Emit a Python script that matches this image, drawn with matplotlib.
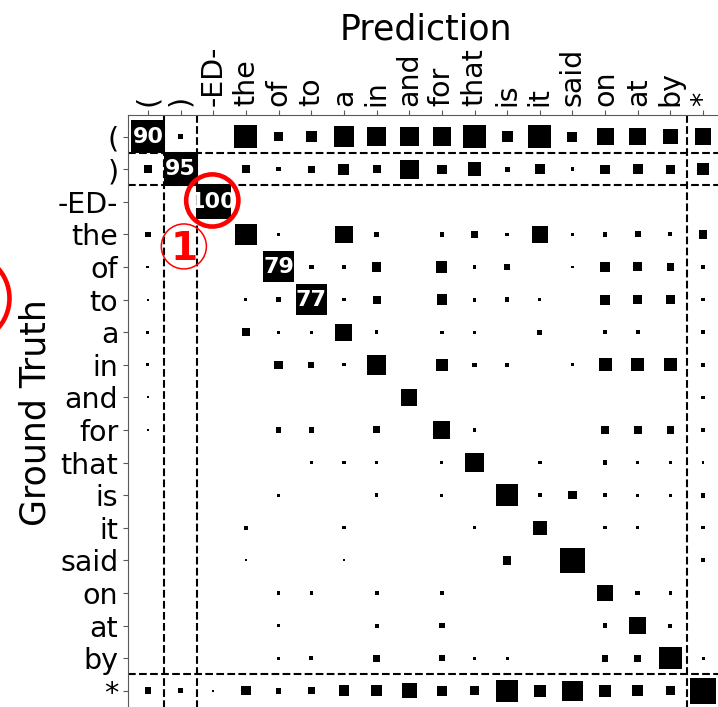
import numpy as np
import matplotlib.pyplot as plt
from matplotlib.patches import Rectangle, Circle

labels = ['(', ')', '-ED-', 'the', 'of', 'to', 'a', 'in', 'and', 'for',
          'that', 'is', 'it', 'said', 'on', 'at', 'by', '*']

# ground truth rows, predicted tokens as columns (same order as labels)
r_lparen = [90, 2.7, 0, 43.2, 7.7, 9.9, 35.0, 30.4, 29.5, 28.5, 42.0, 9.4, 43.2, 8.2, 23.6, 24.4, 19.1, 21.7]
r_rparen = [5.2, 95, 0, 5.6, 1.5, 3.7, 9.9, 5.2, 29.5, 7.1, 16.0, 2.3, 8.7, 1.1, 7.1, 8.2, 6.2, 12.4]
r_ed = [0, 0, 100, 0, 0, 0, 0, 0, 0, 0, 0, 0, 0, 0, 0, 0, 0, 0]
r_the = [2.7, 0, 0, 38.4, 0.6, 0, 24.4, 1.5, 0, 1.5, 4.4, 1.1, 21.7, 1.1, 1.8, 3.2, 1.3, 6.2]
r_of = [0.7, 0, 0, 0, 79, 2.0, 0.9, 7.1, 0, 10.4, 0.9, 2.9, 0, 0.6, 8.7, 6.6, 4.8, 0.9]
r_to = [0.3, 0, 0, 0.7, 2.3, 77, 0.9, 5.2, 0, 8.7, 1.3, 1.5, 0.6, 0, 8.2, 6.6, 6.2, 0.9]
r_a = [0.7, 0, 0, 4.8, 0.7, 0.6, 23.6, 1.1, 0, 0.9, 0.9, 0, 2.0, 0, 1.1, 1.1, 0, 1.5]
r_in = [0.7, 0, 0, 0, 5.6, 2.9, 0.9, 31.7, 0, 12.4, 1.5, 1.5, 0, 0.7, 13.8, 13.2, 13.2, 1.3]
r_and = [0.3, 0, 0, 0, 0, 0, 0, 0, 21.7, 0, 0, 0, 0, 0, 0, 0, 0, 0.9]
r_for = [0.3, 0, 0, 0, 2.6, 2.3, 0, 4.0, 0, 24.4, 1.3, 0, 0, 0, 5.6, 5.6, 4.8, 0.9]
r_that = [0, 0, 0, 0, 0, 0.6, 0.9, 1.1, 0, 0.7, 29.5, 0, 1.1, 0, 1.8, 0.9, 0.9, 0.6]
r_is = [0, 0, 0, 0, 0.9, 0, 0, 1.1, 0, 0.7, 0, 40.6, 1.1, 5.6, 1.1, 0.9, 0.9, 1.8]
r_it = [0, 0, 0, 1.3, 0, 0, 0.9, 0, 0, 0, 0.9, 0, 16.7, 0, 0.9, 0.9, 0, 0.9]
r_said = [0, 0, 0, 0.3, 0, 0, 0.3, 0, 0, 0, 0, 5.6, 0, 49.8, 0, 0, 0, 1.3]
r_on = [0, 0, 0, 0, 1.1, 0.9, 0, 1.3, 0, 1.5, 0, 0, 0, 0, 20.9, 1.8, 1.1, 0]
r_at = [0, 0, 0, 0, 1.1, 0, 0, 1.3, 0, 2.6, 0, 0, 0, 0, 1.5, 24.4, 1.3, 0]
r_by = [0, 0, 0, 0, 0.9, 1.3, 0, 4.0, 0, 2.6, 0.6, 0.6, 0, 0, 3.7, 3.7, 40.6, 0.7]
r_star = [3.7, 2.0, 0.4, 7.1, 2.6, 4.4, 9.4, 9.9, 18.4, 8.7, 6.6, 40.6, 11.2, 33.6, 11.2, 9.9, 6.6, 53.9]

conf = np.array([r_lparen, r_rparen, r_ed, r_the, r_of, r_to, r_a, r_in, r_and,
                 r_for, r_that, r_is, r_it, r_said, r_on, r_at, r_by, r_star])
n = len(labels)

fig = plt.figure(figsize=(7.18, 7.07), dpi=100)
ax = fig.add_axes([0.1783, -0.0052, 0.8287, 0.8420])

# square area proportional to the value
for i in range(n):
    for j in range(n):
        v = conf[i, j]
        if v <= 0:
            continue
        s = 1.07 * np.sqrt(v / 100.0)
        ax.add_patch(Rectangle((j - s / 2, i - s / 2), s, s, color='black', lw=0, zorder=3))
        if v >= 70:
            ax.text(j, i, '%d' % v, color='white', fontsize=16, fontweight='bold',
                    ha='center', va='center', zorder=4)

# separators for the bracket tokens and the catch-all class
for p in [0.5, 1.5, 16.5]:
    ax.axhline(p, color='black', ls='--', lw=1.5, zorder=2)
    ax.axvline(p, color='black', ls='--', lw=1.5, zorder=2)

ax.set_xlim(-0.61, n - 0.39)
ax.set_ylim(n - 0.39, -0.65)

ax.xaxis.tick_top()
ax.set_xticks(range(n))
ax.set_xticklabels(labels, rotation=90)
ax.set_yticks(range(n))
ax.set_yticklabels(labels)
ax.tick_params(labelsize=20.5, length=3.5, color='0.35')
for side in ['right', 'bottom']:
    ax.spines[side].set_visible(False)
for side in ['top', 'left']:
    ax.spines[side].set_color('0.35')

ax.set_ylabel('Ground Truth', fontsize=25, labelpad=4)
fig.text(425.5 / 718, 1 - 39 / 707, 'Prediction', fontsize=25, ha='center', va='baseline')

# red markings
ax.add_patch(Circle((1.97, 1.96), 0.80, fill=False, ec='red', lw=3.3, clip_on=False, zorder=5))
ax.add_patch(Circle((1.10, 3.37), 0.69, fill=False, ec='red', lw=1.1, clip_on=False, zorder=5))
ax.text(1.10, 3.80, '1', color='red', fontsize=28, fontweight='bold',
        ha='center', va='baseline', zorder=5)
ax.add_patch(Circle((-5.62, 4.96), 1.38, fill=False, ec='red', lw=3.3, clip_on=False, zorder=5))

plt.savefig('out.png', dpi=100)
